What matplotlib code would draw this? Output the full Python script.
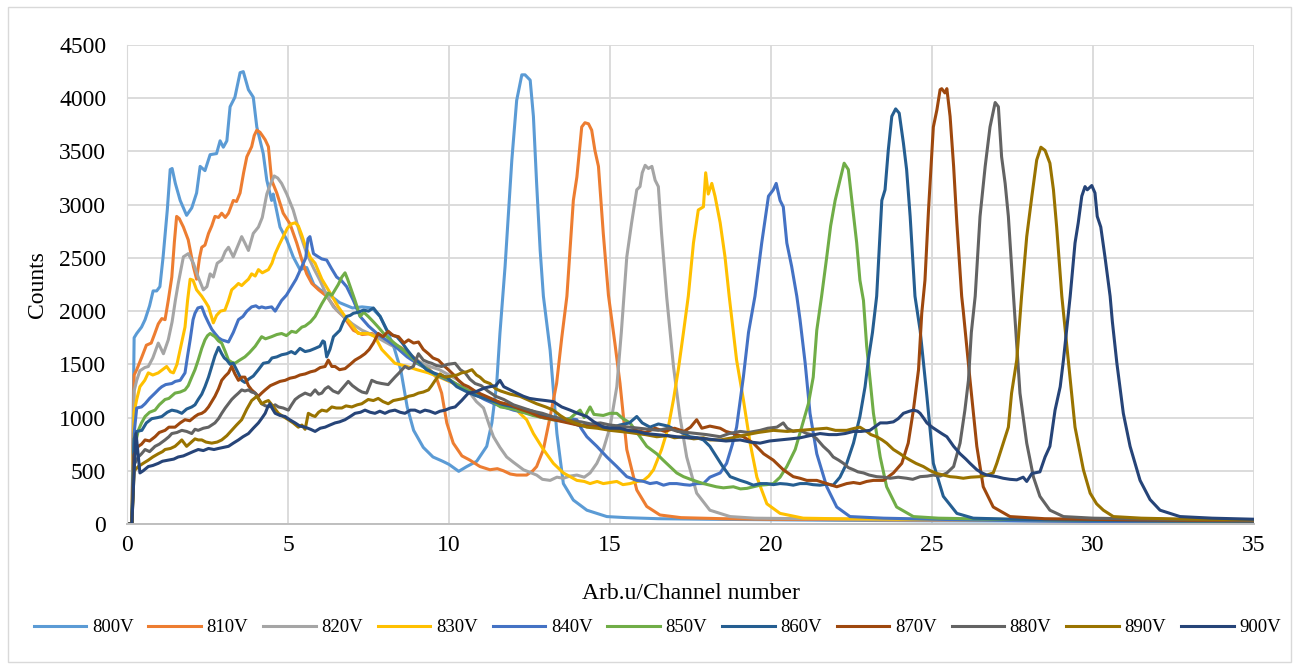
import matplotlib.pyplot as plt
from matplotlib.patches import Rectangle

plt.rcParams['font.family'] = ['Liberation Serif', 'DejaVu Serif']

# Pulse-height spectra, (channel, counts) pairs for each PMT voltage
s800 = [(0, 0), (0.15, 0), (0.22, 1750), (0.3, 1790), (0.45, 1850), (0.56, 1920), (0.7, 2050), (0.81, 2190),
        (0.92, 2190), (1.02, 2230), (1.12, 2510), (1.25, 2950), (1.34, 3330), (1.4, 3340), (1.5, 3200),
        (1.65, 3040), (1.85, 2900), (2.01, 2970), (2.16, 3110), (2.27, 3360), (2.42, 3320), (2.58, 3470),
        (2.78, 3480), (2.89, 3600), (2.99, 3540), (3.1, 3600), (3.2, 3920), (3.35, 4010), (3.51, 4240),
        (3.61, 4250), (3.77, 4080), (3.92, 4010), (4.03, 3730), (4.23, 3480), (4.34, 3230), (4.49, 3040),
        (4.54, 3100), (4.75, 2790), (4.96, 2670), (5.16, 2510), (5.37, 2390), (5.58, 2410), (5.8, 2250),
        (6.0, 2200), (6.3, 2150), (6.6, 2080), (7.0, 2030), (7.3, 2040), (7.6, 2030), (7.86, 1950),
        (8.1, 1800), (8.3, 1650), (8.5, 1450), (8.7, 1100), (8.9, 880), (9.2, 720), (9.5, 630), (9.8, 590),
        (10.0, 560), (10.3, 495), (10.55, 540), (10.86, 590), (11.17, 730), (11.33, 950), (11.48, 1320),
        (11.58, 1790), (11.74, 2420), (11.95, 3420), (12.1, 3980), (12.26, 4220), (12.36, 4220),
        (12.52, 4170), (12.62, 3830), (12.72, 3200), (12.83, 2570), (12.93, 2140), (13.14, 1630),
        (13.35, 850), (13.55, 380), (13.86, 225), (14.28, 130), (14.9, 70), (15.5, 60), (16.5, 50),
        (18, 45), (20, 40), (22, 35), (25, 30), (28, 28), (31, 25), (35, 20)]

s810 = [(0, 0), (0.15, 0), (0.22, 1400), (0.3, 1450), (0.46, 1570), (0.6, 1680), (0.75, 1700), (0.85, 1780),
        (0.97, 1880), (1.08, 1930), (1.18, 1920), (1.28, 2100), (1.39, 2320), (1.47, 2650), (1.54, 2890),
        (1.62, 2870), (1.75, 2790), (1.9, 2670), (2.06, 2420), (2.16, 2300), (2.25, 2500), (2.32, 2600),
        (2.42, 2620), (2.53, 2730), (2.63, 2800), (2.73, 2890), (2.84, 2880), (2.94, 2920), (3.05, 2880),
        (3.15, 2920), (3.3, 3040), (3.4, 3030), (3.51, 3110), (3.62, 3300), (3.72, 3450), (3.87, 3545),
        (3.95, 3650), (4.03, 3700), (4.13, 3680), (4.2, 3650), (4.29, 3610), (4.39, 3545), (4.49, 3230),
        (4.65, 3110), (4.85, 2920), (5.06, 2820), (5.27, 2640), (5.43, 2480), (5.58, 2350), (5.74, 2260),
        (5.95, 2200), (6.2, 2140), (6.51, 2010), (6.72, 1950), (7.03, 1820), (7.3, 1780), (7.6, 1790),
        (7.9, 1740), (8.2, 1700), (8.5, 1660), (8.8, 1590), (9.1, 1520), (9.4, 1450), (9.6, 1380),
        (9.77, 1230), (9.93, 950), (10.13, 760), (10.4, 640), (10.65, 600), (10.96, 540), (11.27, 510),
        (11.5, 520), (11.69, 500), (11.9, 470), (12.1, 460), (12.41, 460), (12.6, 500), (12.72, 540),
        (12.93, 700), (13.14, 1010), (13.34, 1320), (13.5, 1750), (13.66, 2140), (13.86, 3040),
        (13.97, 3260), (14.12, 3730), (14.22, 3770), (14.33, 3760), (14.43, 3700), (14.53, 3510),
        (14.64, 3360), (14.79, 2730), (14.95, 2150), (15.15, 1700), (15.31, 1320), (15.52, 700),
        (15.83, 320), (16.14, 165), (16.55, 85), (17.2, 60), (18.5, 50), (20, 45), (23, 40), (26, 35),
        (30, 30), (35, 25)]

s820 = [(0, 0), (0.15, 0), (0.22, 1250), (0.3, 1350), (0.4, 1440), (0.55, 1470), (0.66, 1480), (0.8, 1560),
        (0.97, 1700), (1.13, 1600), (1.28, 1730), (1.4, 1900), (1.5, 2100), (1.59, 2260), (1.75, 2510),
        (1.9, 2540), (2.06, 2450), (2.21, 2320), (2.37, 2200), (2.48, 2230), (2.58, 2350), (2.68, 2320),
        (2.8, 2450), (2.94, 2480), (3.05, 2560), (3.15, 2600), (3.3, 2510), (3.45, 2620), (3.56, 2700),
        (3.66, 2640), (3.77, 2570), (3.92, 2730), (4.08, 2790), (4.2, 2880), (4.34, 3100), (4.46, 3200),
        (4.57, 3270), (4.68, 3250), (4.8, 3200), (4.96, 3100), (5.16, 2950), (5.37, 2730), (5.58, 2540),
        (5.8, 2400), (5.99, 2290), (6.2, 2150), (6.41, 2040), (6.72, 1950), (7.0, 1880), (7.3, 1820),
        (7.6, 1780), (7.9, 1730), (8.2, 1680), (8.5, 1640), (8.8, 1580), (9.1, 1520), (9.4, 1480),
        (9.7, 1450), (10.0, 1400), (10.3, 1350), (10.6, 1250), (10.85, 1150), (11.07, 1090), (11.27, 910),
        (11.38, 820), (11.58, 720), (11.79, 630), (12.0, 580), (12.31, 510), (12.72, 460), (12.9, 420),
        (13.14, 410), (13.35, 440), (13.55, 430), (13.75, 450), (13.97, 460), (14.2, 440), (14.38, 480),
        (14.59, 570), (14.79, 700), (15.0, 910), (15.21, 1290), (15.35, 1800), (15.52, 2510), (15.67, 2830),
        (15.83, 3140), (15.93, 3170), (16.0, 3300), (16.09, 3370), (16.19, 3340), (16.3, 3360), (16.4, 3230),
        (16.5, 3170), (16.6, 2730), (16.76, 2130), (16.97, 1480), (17.17, 1010), (17.38, 630), (17.69, 290),
        (18.1, 130), (18.73, 70), (19.5, 55), (21, 50), (24, 40), (27, 35), (31, 30), (35, 25)]

s830 = [(0, 0), (0.15, 0), (0.22, 1050), (0.3, 1170), (0.4, 1290), (0.55, 1350), (0.66, 1420), (0.8, 1400),
        (0.97, 1420), (1.1, 1450), (1.23, 1480), (1.35, 1430), (1.44, 1420), (1.55, 1500), (1.65, 1640),
        (1.8, 1850), (1.88, 2100), (1.96, 2300), (2.05, 2290), (2.16, 2200), (2.32, 2140), (2.45, 2080),
        (2.53, 2040), (2.68, 1890), (2.78, 1960), (2.9, 2000), (3.04, 2010), (3.15, 2100), (3.25, 2200),
        (3.36, 2230), (3.46, 2260), (3.56, 2240), (3.66, 2270), (3.77, 2300), (3.87, 2350), (3.98, 2330),
        (4.08, 2390), (4.2, 2360), (4.39, 2390), (4.5, 2450), (4.6, 2540), (4.72, 2620), (4.85, 2700),
        (4.98, 2780), (5.11, 2820), (5.22, 2830), (5.32, 2800), (5.42, 2720), (5.55, 2600), (5.7, 2500),
        (5.84, 2450), (6.05, 2300), (6.25, 2200), (6.56, 2040), (6.77, 1950), (7.03, 1850), (7.18, 1790),
        (7.49, 1790), (7.7, 1760), (7.91, 1640), (8.32, 1510), (8.7, 1480), (9.0, 1450), (9.36, 1420),
        (9.7, 1380), (10.0, 1340), (10.3, 1300), (10.6, 1260), (10.9, 1220), (11.2, 1180), (11.5, 1150),
        (11.8, 1120), (12.05, 1090), (12.2, 1040), (12.41, 980), (12.62, 850), (12.93, 700), (13.24, 570),
        (13.55, 480), (13.97, 410), (14.2, 400), (14.38, 380), (14.6, 400), (14.79, 380), (15.0, 390),
        (15.21, 400), (15.4, 370), (15.62, 380), (15.85, 400), (16.04, 410), (16.2, 450), (16.35, 510),
        (16.6, 700), (16.81, 910), (16.97, 1170), (17.12, 1450), (17.28, 1800), (17.43, 2140), (17.59, 2640),
        (17.74, 2950), (17.9, 2980), (17.97, 3300), (18.05, 3100), (18.16, 3200), (18.26, 3080),
        (18.42, 2830), (18.57, 2510), (18.7, 2140), (18.93, 1540), (19.14, 1170), (19.35, 760),
        (19.56, 440), (19.87, 190), (20.28, 100), (21.0, 55), (22, 50), (24, 45), (27, 40), (31, 30),
        (35, 25)]

s840 = [(0, 0), (0.15, 0), (0.22, 850), (0.3, 1090), (0.45, 1100), (0.56, 1130), (0.7, 1180), (0.87, 1230),
        (1.0, 1270), (1.08, 1290), (1.2, 1310), (1.39, 1320), (1.5, 1340), (1.65, 1350), (1.8, 1420),
        (1.88, 1580), (1.96, 1730), (2.05, 1920), (2.11, 1980), (2.2, 2030), (2.32, 2040), (2.42, 1960),
        (2.53, 1890), (2.63, 1830), (2.73, 1790), (2.84, 1750), (2.94, 1730), (3.05, 1720), (3.15, 1710),
        (3.3, 1800), (3.46, 1920), (3.6, 1950), (3.72, 2000), (3.87, 2040), (4.0, 2050), (4.1, 2030),
        (4.18, 2040), (4.3, 2030), (4.49, 2040), (4.6, 2000), (4.8, 2100), (4.95, 2150), (5.11, 2230),
        (5.25, 2300), (5.43, 2420), (5.55, 2500), (5.62, 2680), (5.68, 2700), (5.79, 2540), (5.94, 2510),
        (6.05, 2490), (6.2, 2480), (6.35, 2400), (6.51, 2320), (6.65, 2290), (6.82, 2230), (7.03, 2100),
        (7.24, 1950), (7.5, 1860), (7.8, 1780), (8.1, 1720), (8.4, 1650), (8.7, 1570), (9.0, 1510),
        (9.3, 1460), (9.6, 1400), (9.9, 1360), (10.2, 1320), (10.5, 1270), (10.8, 1220), (11.1, 1170),
        (11.4, 1130), (11.7, 1100), (12.0, 1070), (12.3, 1050), (12.6, 1030), (12.9, 1000), (13.2, 990),
        (13.5, 980), (13.75, 990), (13.97, 980), (14.1, 900), (14.28, 820), (14.59, 730), (14.9, 630),
        (15.21, 540), (15.52, 445), (15.83, 410), (16.05, 400), (16.24, 380), (16.45, 390), (16.66, 365),
        (16.85, 380), (17.07, 380), (17.3, 370), (17.48, 365), (17.7, 380), (17.9, 380), (18.1, 440),
        (18.42, 480), (18.62, 570), (18.8, 750), (18.93, 910), (19.14, 1380), (19.3, 1800), (19.5, 2140),
        (19.71, 2640), (19.92, 3080), (20.07, 3140), (20.16, 3200), (20.28, 3040), (20.38, 2980),
        (20.49, 2640), (20.64, 2420), (20.8, 2140), (20.9, 1920), (21.06, 1510), (21.21, 1040),
        (21.42, 660), (21.73, 350), (22.04, 160), (22.45, 70), (23.5, 55), (25, 45), (28, 30), (31, 20),
        (35, 15)]

s850 = [(0, 0), (0.15, 0), (0.22, 700), (0.35, 880), (0.45, 950), (0.56, 1010), (0.7, 1050), (0.87, 1070),
        (1.0, 1120), (1.18, 1170), (1.3, 1180), (1.49, 1230), (1.65, 1240), (1.8, 1260), (1.9, 1300),
        (2.01, 1380), (2.11, 1450), (2.21, 1540), (2.32, 1650), (2.42, 1730), (2.5, 1770), (2.58, 1790),
        (2.73, 1760), (2.84, 1720), (2.94, 1700), (3.05, 1620), (3.15, 1540), (3.25, 1520), (3.35, 1510),
        (3.5, 1540), (3.66, 1570), (3.8, 1610), (3.98, 1670), (4.18, 1760), (4.3, 1740), (4.49, 1760),
        (4.65, 1780), (4.8, 1790), (4.95, 1770), (5.11, 1810), (5.25, 1800), (5.43, 1850), (5.53, 1860),
        (5.7, 1900), (5.84, 1950), (6.05, 2070), (6.15, 2120), (6.25, 2170), (6.36, 2150), (6.46, 2200),
        (6.56, 2250), (6.67, 2320), (6.77, 2360), (6.85, 2300), (6.93, 2230), (7.08, 2100), (7.24, 1950),
        (7.35, 1990), (7.49, 1950), (7.65, 1900), (7.8, 1850), (8.0, 1780), (8.3, 1700), (8.6, 1630),
        (9.0, 1520), (9.3, 1460), (9.6, 1400), (10.0, 1360), (10.3, 1300), (10.6, 1250), (11.0, 1200),
        (11.3, 1160), (11.6, 1100), (12.0, 1080), (12.3, 1050), (12.6, 1020), (12.9, 1000), (13.2, 980),
        (13.5, 970), (13.75, 990), (13.9, 1030), (14.07, 1070), (14.2, 1000), (14.38, 1100), (14.5, 1030),
        (14.79, 1020), (15.0, 1040), (15.21, 1040), (15.4, 990), (15.62, 950), (15.93, 820), (16.14, 730),
        (16.45, 660), (16.65, 600), (16.86, 540), (17.07, 480), (17.28, 445), (17.5, 420), (17.69, 400),
        (17.9, 380), (18.1, 365), (18.3, 350), (18.52, 340), (18.83, 350), (19.05, 330), (19.25, 335),
        (19.45, 350), (19.66, 365), (19.87, 370), (20.07, 380), (20.28, 440), (20.49, 540), (20.75, 700),
        (20.95, 910), (21.16, 1130), (21.31, 1380), (21.42, 1820), (21.57, 2140), (21.73, 2510),
        (21.85, 2800), (21.99, 3040), (22.14, 3230), (22.27, 3390), (22.4, 3330), (22.51, 3040),
        (22.66, 2640), (22.76, 2290), (22.87, 2100), (22.97, 1670), (23.18, 1040), (23.39, 630),
        (23.59, 350), (23.9, 160), (24.42, 70), (25.2, 55), (27, 45), (30, 35), (35, 25)]

s860 = [(0, 0), (0.15, 0), (0.22, 800), (0.3, 870), (0.46, 880), (0.6, 950), (0.77, 990), (0.95, 1000),
        (1.08, 1010), (1.25, 1050), (1.39, 1070), (1.55, 1060), (1.7, 1040), (1.85, 1080), (2.01, 1100),
        (2.11, 1120), (2.21, 1170), (2.32, 1220), (2.42, 1290), (2.53, 1380), (2.63, 1480), (2.73, 1580),
        (2.84, 1660), (2.94, 1600), (3.02, 1560), (3.1, 1540), (3.2, 1500), (3.3, 1510), (3.45, 1420),
        (3.56, 1350), (3.66, 1330), (3.77, 1360), (3.92, 1390), (4.08, 1450), (4.23, 1510), (4.4, 1520),
        (4.5, 1560), (4.65, 1570), (4.8, 1590), (4.96, 1600), (5.1, 1620), (5.22, 1600), (5.37, 1650),
        (5.53, 1620), (5.68, 1630), (5.84, 1650), (5.99, 1670), (6.08, 1720), (6.13, 1710), (6.2, 1570),
        (6.3, 1640), (6.41, 1760), (6.51, 1790), (6.61, 1820), (6.72, 1900), (6.82, 1950), (6.93, 1960),
        (7.03, 1980), (7.18, 1990), (7.34, 2010), (7.5, 2000), (7.65, 2030), (7.86, 1950), (8.07, 1820),
        (8.2, 1780), (8.38, 1760), (8.55, 1700), (8.69, 1640), (8.9, 1560), (9.1, 1510), (9.3, 1450),
        (9.52, 1420), (9.7, 1400), (9.93, 1380), (10.24, 1290), (10.5, 1250), (10.8, 1210), (11.1, 1180),
        (11.4, 1150), (11.7, 1120), (12.0, 1100), (12.3, 1080), (12.6, 1060), (12.9, 1020), (13.2, 990),
        (13.5, 970), (13.8, 950), (14.1, 920), (14.4, 930), (14.7, 920), (15.0, 900), (15.3, 930),
        (15.6, 950), (15.83, 1010), (16.0, 950), (16.24, 910), (16.5, 940), (16.8, 920), (17.07, 880),
        (17.3, 850), (17.48, 820), (17.7, 810), (17.9, 790), (18.1, 730), (18.31, 630), (18.5, 540),
        (18.73, 445), (19.04, 410), (19.25, 390), (19.45, 365), (19.66, 380), (19.87, 380), (20.07, 370),
        (20.28, 380), (20.49, 375), (20.69, 365), (20.9, 380), (21.11, 380), (21.3, 370), (21.52, 365),
        (21.73, 375), (21.93, 365), (22.14, 440), (22.35, 570), (22.56, 760), (22.76, 1010), (22.92, 1290),
        (23.02, 1540), (23.15, 1800), (23.28, 2140), (23.44, 3040), (23.54, 3140), (23.64, 3510),
        (23.75, 3830), (23.87, 3900), (23.98, 3860), (24.11, 3580), (24.21, 3330), (24.32, 2890),
        (24.47, 2140), (24.63, 1820), (24.84, 1200), (25.04, 570), (25.35, 260), (25.77, 100),
        (26.28, 55), (27.5, 45), (30, 35), (35, 25)]

s870 = [(0, 0), (0.15, 0), (0.22, 650), (0.35, 730), (0.45, 750), (0.56, 790), (0.7, 780), (0.87, 820),
        (1.0, 860), (1.18, 880), (1.3, 910), (1.49, 910), (1.65, 950), (1.8, 980), (1.95, 970),
        (2.11, 1010), (2.21, 1030), (2.32, 1040), (2.42, 1060), (2.53, 1100), (2.63, 1150), (2.73, 1200),
        (2.84, 1270), (2.94, 1350), (3.05, 1390), (3.15, 1420), (3.25, 1480), (3.35, 1410), (3.46, 1350),
        (3.56, 1380), (3.66, 1380), (3.77, 1300), (3.87, 1260), (3.98, 1230), (4.08, 1200), (4.18, 1230),
        (4.29, 1260), (4.45, 1300), (4.6, 1320), (4.75, 1340), (4.91, 1350), (5.06, 1370), (5.22, 1380),
        (5.37, 1400), (5.53, 1410), (5.7, 1430), (5.84, 1440), (6.0, 1470), (6.15, 1480), (6.25, 1540),
        (6.36, 1480), (6.46, 1480), (6.6, 1450), (6.77, 1460), (6.93, 1500), (7.08, 1540), (7.25, 1570),
        (7.39, 1600), (7.52, 1640), (7.65, 1700), (7.8, 1790), (7.95, 1760), (8.11, 1810), (8.27, 1770),
        (8.43, 1760), (8.6, 1700), (8.74, 1730), (8.9, 1700), (9.05, 1710), (9.2, 1640), (9.36, 1600),
        (9.5, 1560), (9.67, 1540), (9.83, 1490), (9.98, 1450), (10.15, 1400), (10.29, 1350), (10.45, 1310),
        (10.6, 1290), (10.8, 1250), (11.0, 1220), (11.3, 1180), (11.6, 1140), (11.9, 1120), (12.2, 1080),
        (12.5, 1050), (12.8, 1010), (13.1, 990), (13.4, 970), (13.7, 950), (14.0, 930), (14.3, 920),
        (14.6, 930), (14.9, 900), (15.2, 890), (15.5, 870), (15.8, 880), (16.1, 860), (16.4, 900),
        (16.7, 870), (17.0, 900), (17.3, 870), (17.5, 910), (17.69, 980), (17.85, 900), (18.1, 920),
        (18.42, 900), (18.6, 870), (18.83, 850), (19.14, 820), (19.45, 760), (19.77, 660), (20.07, 600),
        (20.38, 510), (20.69, 445), (20.9, 430), (21.11, 410), (21.42, 410), (21.73, 380), (22.04, 350),
        (22.35, 380), (22.56, 390), (22.76, 380), (22.97, 400), (23.18, 410), (23.49, 410), (23.8, 480),
        (24.06, 570), (24.26, 760), (24.42, 1070), (24.58, 1450), (24.68, 1980), (24.78, 2290),
        (24.89, 2950), (25.04, 3730), (25.15, 3890), (25.25, 4080), (25.3, 4090), (25.4, 4050),
        (25.46, 4090), (25.56, 3830), (25.67, 3360), (25.77, 2830), (25.92, 2140), (25.97, 2000),
        (26.18, 1350), (26.39, 730), (26.59, 350), (26.9, 160), (27.42, 70), (28.5, 50), (31, 40),
        (35, 30)]

s880 = [(0, 0), (0.15, 0), (0.22, 560), (0.35, 630), (0.45, 660), (0.56, 700), (0.7, 680), (0.87, 730),
        (1.0, 750), (1.18, 790), (1.3, 820), (1.39, 850), (1.55, 860), (1.7, 880), (1.85, 870), (2.01, 850),
        (2.11, 890), (2.21, 880), (2.37, 900), (2.53, 910), (2.63, 930), (2.73, 950), (2.84, 990),
        (2.94, 1040), (3.05, 1090), (3.15, 1130), (3.25, 1170), (3.35, 1200), (3.46, 1230), (3.56, 1260),
        (3.66, 1250), (3.77, 1260), (3.87, 1240), (3.98, 1230), (4.08, 1180), (4.18, 1130), (4.3, 1110),
        (4.49, 1100), (4.6, 1120), (4.7, 1100), (4.85, 1090), (5.01, 1070), (5.11, 1120), (5.22, 1170),
        (5.35, 1200), (5.53, 1230), (5.7, 1210), (5.84, 1260), (5.95, 1220), (6.05, 1230), (6.15, 1270),
        (6.25, 1290), (6.4, 1250), (6.56, 1230), (6.7, 1280), (6.87, 1340), (7.0, 1300), (7.18, 1260),
        (7.3, 1240), (7.44, 1230), (7.6, 1350), (7.75, 1330), (7.91, 1320), (8.11, 1310), (8.32, 1380),
        (8.45, 1420), (8.63, 1480), (8.75, 1460), (8.89, 1480), (9.05, 1600), (9.2, 1540), (9.35, 1520),
        (9.46, 1510), (9.6, 1490), (9.77, 1480), (9.95, 1500), (10.19, 1510), (10.35, 1450), (10.5, 1420),
        (10.65, 1360), (10.81, 1320), (11.0, 1300), (11.2, 1250), (11.45, 1200), (11.7, 1170),
        (12.0, 1120), (12.3, 1090), (12.6, 1060), (12.9, 1040), (13.2, 1010), (13.5, 990), (13.8, 970),
        (14.1, 960), (14.4, 940), (14.7, 950), (15.0, 930), (15.3, 920), (15.6, 910), (15.9, 900),
        (16.2, 890), (16.5, 880), (16.8, 900), (17.1, 870), (17.4, 860), (17.7, 850), (18.0, 840),
        (18.2, 830), (18.42, 820), (18.7, 850), (19.04, 870), (19.3, 860), (19.66, 880), (19.9, 900),
        (20.18, 910), (20.38, 950), (20.5, 900), (20.69, 870), (20.9, 880), (21.11, 850), (21.25, 840),
        (21.42, 800), (21.62, 730), (21.8, 680), (21.93, 630), (22.1, 600), (22.25, 570), (22.4, 530),
        (22.56, 510), (22.7, 490), (22.87, 480), (23.05, 460), (23.28, 445), (23.5, 440), (23.7, 430),
        (23.95, 440), (24.21, 430), (24.4, 420), (24.63, 445), (24.85, 450), (25.04, 460), (25.25, 450),
        (25.46, 480), (25.67, 540), (25.87, 760), (26.02, 1070), (26.13, 1350), (26.22, 1800),
        (26.34, 2140), (26.49, 2890), (26.65, 3360), (26.8, 3730), (26.96, 3960), (27.06, 3920),
        (27.16, 3450), (27.27, 3200), (27.37, 2890), (27.53, 2140), (27.73, 1230), (27.94, 760),
        (28.15, 440), (28.35, 260), (28.66, 130), (29.08, 70), (30, 55), (32, 45), (35, 35)]

s890 = [(0, 0), (0.15, 0), (0.22, 500), (0.35, 540), (0.5, 570), (0.66, 600), (0.8, 630), (0.97, 660),
        (1.1, 680), (1.18, 700), (1.35, 710), (1.49, 730), (1.6, 760), (1.7, 790), (1.85, 730), (2.0, 770),
        (2.11, 800), (2.21, 790), (2.32, 790), (2.45, 770), (2.63, 760), (2.8, 770), (2.94, 790),
        (3.1, 830), (3.25, 880), (3.4, 930), (3.56, 980), (3.72, 1080), (3.87, 1160), (4.03, 1200),
        (4.18, 1130), (4.3, 1150), (4.39, 1160), (4.55, 1100), (4.7, 1040), (4.85, 1010), (5.01, 980),
        (5.16, 950), (5.32, 910), (5.43, 930), (5.53, 890), (5.63, 1040), (5.75, 1020), (5.84, 1010),
        (5.95, 1050), (6.05, 1070), (6.2, 1060), (6.36, 1100), (6.5, 1090), (6.67, 1090), (6.8, 1110),
        (6.98, 1100), (7.15, 1120), (7.29, 1130), (7.49, 1170), (7.65, 1160), (7.8, 1180), (7.95, 1150),
        (8.11, 1130), (8.27, 1160), (8.43, 1170), (8.6, 1180), (8.74, 1200), (8.9, 1210), (9.05, 1230),
        (9.2, 1240), (9.36, 1260), (9.46, 1300), (9.57, 1350), (9.72, 1410), (9.87, 1380), (10.08, 1390),
        (10.25, 1400), (10.39, 1420), (10.55, 1430), (10.71, 1450), (10.85, 1400), (10.96, 1380),
        (11.1, 1340), (11.27, 1320), (11.45, 1270), (11.6, 1250), (11.9, 1220), (12.2, 1200), (12.5, 1160),
        (12.72, 1130), (13.0, 1100), (13.24, 1070), (13.45, 1020), (13.66, 980), (13.9, 950), (14.1, 930),
        (14.28, 910), (14.6, 900), (15.0, 880), (15.3, 870), (15.6, 860), (15.83, 850), (16.1, 840),
        (16.45, 820), (16.8, 830), (17.0, 810), (17.28, 820), (17.6, 800), (17.9, 810), (18.1, 790),
        (18.42, 790), (18.8, 810), (19.25, 840), (19.6, 860), (20.07, 880), (20.5, 870), (20.9, 880),
        (21.3, 890), (21.73, 900), (22.0, 880), (22.35, 880), (22.6, 900), (22.76, 910), (22.97, 870),
        (23.1, 840), (23.28, 820), (23.45, 790), (23.59, 760), (23.8, 700), (24.01, 660), (24.15, 630),
        (24.32, 600), (24.5, 570), (24.73, 540), (24.95, 500), (25.15, 475), (25.35, 460), (25.56, 445),
        (25.75, 440), (25.97, 430), (26.2, 440), (26.49, 445), (26.7, 460), (26.9, 480), (27.01, 570),
        (27.21, 760), (27.37, 910), (27.47, 1230), (27.63, 1540), (27.78, 2140), (27.94, 2700),
        (28.1, 3080), (28.25, 3420), (28.38, 3540), (28.51, 3510), (28.66, 3390), (28.77, 3140),
        (28.87, 2790), (29.03, 2140), (29.23, 1540), (29.44, 910), (29.7, 510), (29.91, 290), (30.11, 190),
        (30.32, 130), (30.63, 70), (31.5, 55), (33, 45), (35, 40)]

s900 = [(0, 0), (0.15, 0), (0.22, 500), (0.28, 850), (0.33, 700), (0.4, 480), (0.5, 500), (0.66, 540),
        (0.8, 550), (0.97, 570), (1.1, 590), (1.28, 600), (1.45, 610), (1.59, 630), (1.75, 640), (1.9, 660),
        (2.05, 680), (2.21, 700), (2.37, 690), (2.53, 710), (2.7, 700), (2.84, 710), (3.0, 720),
        (3.15, 730), (3.3, 760), (3.46, 790), (3.6, 820), (3.77, 850), (3.92, 900), (4.08, 950),
        (4.2, 1000), (4.29, 1040), (4.37, 1100), (4.44, 1130), (4.52, 1080), (4.6, 1040), (4.75, 1020),
        (4.91, 1010), (5.05, 980), (5.22, 950), (5.37, 920), (5.53, 910), (5.7, 890), (5.84, 870),
        (6.0, 900), (6.15, 910), (6.3, 930), (6.46, 950), (6.6, 960), (6.77, 980), (6.93, 1010),
        (7.08, 1040), (7.25, 1050), (7.39, 1070), (7.55, 1050), (7.7, 1040), (7.85, 1060), (8.01, 1040),
        (8.15, 1060), (8.32, 1070), (8.48, 1050), (8.63, 1040), (8.8, 1070), (8.94, 1070), (9.1, 1050),
        (9.25, 1070), (9.4, 1060), (9.57, 1040), (9.72, 1060), (9.88, 1070), (10.04, 1090), (10.19, 1100),
        (10.39, 1160), (10.6, 1230), (10.81, 1240), (10.96, 1260), (11.12, 1280), (11.27, 1290),
        (11.45, 1300), (11.58, 1350), (11.7, 1290), (11.9, 1260), (12.1, 1230), (12.31, 1200),
        (12.5, 1180), (12.72, 1170), (13.0, 1160), (13.24, 1150), (13.5, 1100), (13.76, 1070),
        (14.0, 1040), (14.28, 1010), (14.5, 960), (14.79, 910), (15.0, 900), (15.31, 900), (15.55, 880),
        (15.83, 870), (16.1, 850), (16.45, 840), (16.8, 830), (17.07, 820), (17.4, 810), (17.69, 810),
        (18.0, 800), (18.31, 790), (18.6, 780), (19.04, 790), (19.35, 770), (19.66, 760), (19.95, 780),
        (20.28, 790), (20.6, 800), (20.9, 810), (21.2, 830), (21.52, 850), (21.8, 840), (22.04, 840),
        (22.3, 850), (22.56, 870), (22.8, 870), (23.07, 880), (23.25, 920), (23.39, 950), (23.6, 950),
        (23.8, 960), (23.95, 990), (24.11, 1040), (24.3, 1060), (24.42, 1070), (24.55, 1060), (24.63, 1040),
        (24.75, 990), (24.84, 950), (25.0, 910), (25.15, 880), (25.3, 850), (25.46, 820), (25.67, 730),
        (25.87, 660), (26.05, 610), (26.18, 570), (26.39, 510), (26.55, 480), (26.7, 460), (26.9, 450),
        (27.01, 445), (27.21, 430), (27.42, 420), (27.63, 415), (27.83, 440), (27.94, 400), (28.1, 475),
        (28.35, 490), (28.51, 630), (28.66, 730), (28.82, 1070), (28.98, 1290), (29.08, 1540),
        (29.29, 2140), (29.44, 2640), (29.54, 2830), (29.65, 3080), (29.75, 3170), (29.82, 3140),
        (29.96, 3180), (30.06, 3110), (30.13, 2890), (30.24, 2790), (30.37, 2510), (30.53, 2140),
        (30.6, 1900), (30.74, 1510), (30.94, 1040), (31.15, 730), (31.46, 410), (31.77, 230), (32.08, 130),
        (32.7, 70), (33.7, 55), (35, 45)]

series = [s800, s810, s820, s830, s840, s850, s860, s870, s880, s890, s900]
labels = ['800V', '810V', '820V', '830V', '840V', '850V', '860V', '870V', '880V', '890V', '900V']
colors = ['#5B9BD5', '#ED7D31', '#A5A5A5', '#FFC000', '#4472C4', '#70AD47',
          '#255E91', '#9E480E', '#636363', '#997300', '#264478']

fig = plt.figure(figsize=(12.99, 6.69), dpi=100)
ax = fig.add_axes([0.0978, 0.2167, 0.8676, 0.716])

for data, lab, col in zip(series, labels, colors):
    xs, ys = zip(*data)
    ax.plot(xs, ys, color=col, lw=2.2, label=lab, solid_joinstyle='round')

ax.set_xlim(0, 35)
ax.set_ylim(0, 4500)
ax.set_xticks(range(0, 36, 5))
ax.set_yticks(range(0, 4501, 500))
ax.grid(True, color='#D9D9D9', lw=1.3)
ax.set_axisbelow(True)
for side in ['top', 'right']:
    ax.spines[side].set_visible(False)
ax.spines['left'].set_color('#D9D9D9')
ax.spines['bottom'].set_color('#BFBFBF')
ax.spines['bottom'].set_linewidth(1.4)
ax.tick_params(axis='both', length=0, labelsize=17)
ax.tick_params(axis='y', pad=15)
ax.tick_params(axis='x', pad=8)
ax.set_xlabel('Arb.u/Channel number', fontsize=17, labelpad=19)
ax.set_ylabel('Counts', fontsize=17, labelpad=8)

fig.legend(loc='center', bbox_to_anchor=(0.506, 0.062), ncol=11, frameon=False,
           fontsize=13.5, handlelength=2.8, handletextpad=0.3, columnspacing=0.8)

# light chart-area border
fig.patches.append(Rectangle((0.006, 0.011), 0.988, 0.978, transform=fig.transFigure,
                             fill=False, edgecolor='#D9D9D9', lw=1.0))

fig.savefig('out.png', dpi=100)
